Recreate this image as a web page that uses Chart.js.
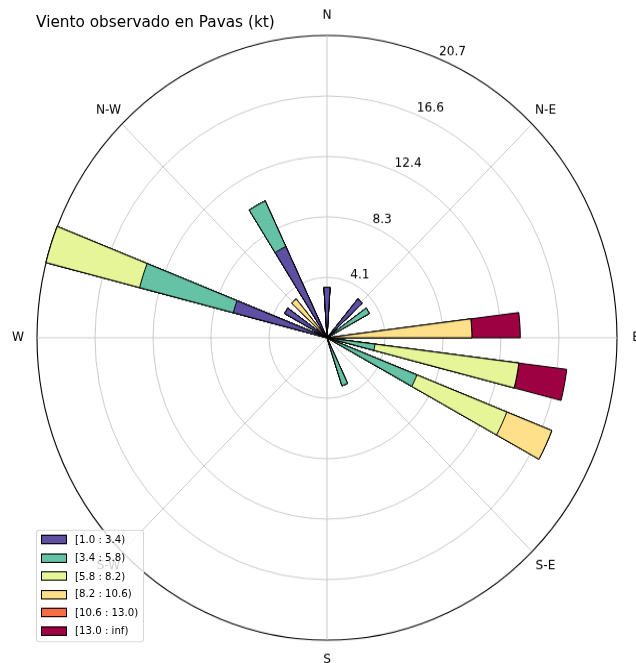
<!DOCTYPE html>
<html>
<head>
<meta charset="utf-8">
<title>Viento observado en Pavas</title>
<script src="https://cdn.jsdelivr.net/npm/chart.js@4.4.1/dist/chart.umd.min.js"></script>
<style>
    html, body { margin: 0; padding: 0; background: #fff; overflow: hidden; }
    /* the reference is a square figure stretched to 636x663 */
    #stage { position: absolute; left: 0; top: 0; width: 636px; height: 636px; transform-origin: 0 0; transform: scaleY(1.0425); }
    #rose { position: absolute; left: 0; top: 0; }
    #title { position: absolute; left: 36px; top: 12px; font: 15.3px "DejaVu Sans", sans-serif; line-height: 18px; color: #000; white-space: nowrap; }
    #legend { position: absolute; left: 36px; top: 508px; width: 108px; height: 108px; box-sizing: border-box; border: 1px solid #d6d6d6; border-radius: 3px; background: rgba(255, 255, 255, 0.8); font: 10.2px "DejaVu Sans", sans-serif; color: #000; }
    .item { position: absolute; left: 0; width: 100%; height: 10px; }
    .swatch { position: absolute; left: 4px; top: 0.5px; width: 26px; height: 9px; box-sizing: border-box; border: 1px solid #000; }
    .txt { position: absolute; left: 38px; top: -1px; line-height: 12px; white-space: nowrap; }
</style>
</head>
<body>
<div id="stage">
    <canvas id="rose" width="636" height="636"></canvas>
    <div id="title">Viento observado en Pavas (kt)</div>
    <div id="legend"></div>
</div>
<script>
// direction of each sector (degrees, clockwise from N) — 25 sectors
const directions = [0, 14.4, 28.8, 43.2, 57.6, 72, 86.4, 100.8, 115.2, 129.6, 144, 158.4, 172.8,
    187.2, 201.6, 216, 230.4, 244.8, 259.2, 273.6, 288, 302.4, 316.8, 331.2, 345.6];

const binLabels = ['[1.0 : 3.4)', '[3.4 : 5.8)', '[5.8 : 8.2)', '[8.2 : 10.6)', '[10.6 : 13.0)', '[13.0 : inf)'];
const binColors = ['#5e4fa2', '#66c2a5', '#e6f598', '#fee08b', '#f46d43', '#9e0142'];

// frequency (%) of each speed class per sector
const freq1 = [3.45, 0, 0, 3.45, 0, 0, 0, 0, 0, 0, 0, 0, 0, 0, 0, 0, 0, 0, 0, 0, 6.9, 3.45, 0, 6.9, 0];
const freq2 = [0, 0, 0, 0, 3.45, 0, 0, 3.45, 6.9, 0, 0, 3.45, 0, 0, 0, 0, 0, 0, 0, 0, 6.9, 0, 0, 3.45, 0];
const freq3 = [0, 0, 0, 0, 0, 0, 0, 10.34, 6.9, 0, 0, 0, 0, 0, 0, 0, 0, 0, 0, 0, 6.9, 0, 0, 0, 0];
const freq4 = [0, 0, 0, 0, 0, 0, 10.34, 0, 3.45, 0, 0, 0, 0, 0, 0, 0, 0, 0, 0, 0, 0, 0, 3.45, 0, 0];
const freq5 = [0, 0, 0, 0, 0, 0, 0, 0, 0, 0, 0, 0, 0, 0, 0, 0, 0, 0, 0, 0, 0, 0, 0, 0, 0];
const freq6 = [0, 0, 0, 0, 0, 0, 3.45, 3.45, 0, 0, 0, 0, 0, 0, 0, 0, 0, 0, 0, 0, 0, 0, 0, 0, 0];

const tickValues = [0, 4.14, 8.28, 12.41, 16.55, 20.69];
const tickLabels = ['', '4.1', '8.3', '12.4', '16.6', '20.7'];
const compassLabels = ['N', 'N-E', 'E', 'S-E', 'S', 'S-W', 'W', 'N-W'];
const compassAngles = [0, 45, 90, 135, 180, 225, 270, 315];

const gridColor = '#c4c4c4';
const font = '"DejaVu Sans", sans-serif';

// each sector becomes a bar slot followed by an empty slot (bars fill half the sector)
const sectorWidth = 360 / directions.length;
const slotLabels = [];
directions.forEach((d) => { slotLabels.push(d + '°', ''); });

function stackedSlots(series) {
    // running total per sector, so the bins sit on top of each other
    const totals = directions.map(() => 0);
    return series.map((s) => {
        const out = [];
        s.forEach((v, k) => {
            totals[k] += v;
            out.push(totals[k], 0);
        });
        return out;
    });
}

const stacked = stackedSlots([freq1, freq2, freq3, freq4, freq5, freq6]);

const datasets = stacked.map((data, i) => ({
    label: binLabels[i],
    data,
    backgroundColor: binColors[i],
    borderColor: '#000',
    borderWidth: (ctx) => (ctx.raw > 0 ? 1 : 0),
    borderAlign: 'center',
    borderJoinStyle: 'miter',
}));

const roseFrame = {
    id: 'roseFrame',
    beforeDatasetsDraw(chart) {
        const r = chart.scales.r;
        const c = chart.ctx;
        c.save();
        c.strokeStyle = gridColor;
        c.lineWidth = 0.9;
        compassAngles.forEach((a) => {
            const rad = a * Math.PI / 180;
            c.beginPath();
            c.moveTo(r.xCenter, r.yCenter);
            c.lineTo(r.xCenter + r.drawingArea * Math.sin(rad), r.yCenter - r.drawingArea * Math.cos(rad));
            c.stroke();
        });
        c.restore();
    },
    afterDatasetsDraw(chart) {
        const r = chart.scales.r;
        const c = chart.ctx;
        c.save();
        c.fillStyle = '#000';
        c.font = '12.2px ' + font;
        c.textAlign = 'center';
        c.textBaseline = 'middle';
        compassLabels.forEach((lab, i) => {
            const rad = compassAngles[i] * Math.PI / 180;
            const d = r.drawingArea + 19;
            c.fillText(lab, r.xCenter + d * Math.sin(rad), r.yCenter - d * Math.cos(rad));
        });
        // radial tick labels along 22.5°
        const rad = 22.5 * Math.PI / 180;
        c.textAlign = 'left';
        c.textBaseline = 'bottom';
        tickValues.forEach((v, i) => {
            if (!tickLabels[i]) return;
            const d = r.getDistanceFromCenterForValue(v);
            c.fillText(tickLabels[i], r.xCenter + d * Math.sin(rad) + 1, r.yCenter - d * Math.cos(rad));
        });
        c.restore();
    },
};

const chart = new Chart(document.getElementById('rose').getContext('2d'), {
    type: 'polarArea',
    data: { labels: slotLabels, datasets },
    options: {
        responsive: false,
        animation: false,
        layout: { padding: { left: 37, right: 19, top: 34, bottom: 22 } },
        plugins: {
            legend: { display: false },
            tooltip: { enabled: false },
        },
        scales: {
            r: {
                min: 0,
                max: tickValues[tickValues.length - 1],
                startAngle: -sectorWidth / 4,
                afterBuildTicks: (scale) => {
                    scale.ticks = tickValues.map((v) => ({ value: v }));
                },
                ticks: { display: false },
                pointLabels: { display: false },
                angleLines: { display: false },
                grid: {
                    circular: true,
                    color: (ctx) => (ctx.index === tickValues.length - 1 ? '#000' : gridColor),
                    lineWidth: (ctx) => (ctx.index === tickValues.length - 1 ? 1.1 : 0.9),
                },
            },
        },
    },
    plugins: [roseFrame],
});

// legend box, built from the datasets
const legendEl = document.getElementById('legend');
chart.data.datasets.forEach((ds, i) => {
    const item = document.createElement('div');
    item.className = 'item';
    item.style.top = (3.9 + i * 17.5) + 'px';
    item.innerHTML = `<span class="swatch" style="background:${ds.backgroundColor}"></span><span class="txt">${ds.label}</span>`;
    legendEl.appendChild(item);
});
</script>
</body>
</html>
